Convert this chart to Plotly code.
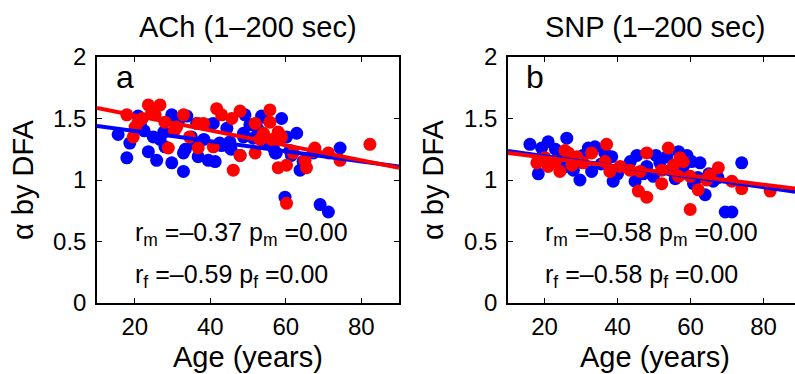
import plotly.graph_objects as go

# ---------------- data ----------------
# Panel a: ACh
age_m_ach = [15.6, 17.9, 18.7, 20.9, 21.5, 23.6, 25.8, 24.9, 26.7, 27.7, 29.8, 29.8, 31.5, 32.9, 32.9,
             33.8, 33.4, 35.0, 36.8, 36.4, 38.3, 39.9, 41.3, 39.5, 42.5, 44.4, 45.2, 47.9, 48.8, 49.2,
             50.5, 51.4, 53.6, 54.5, 56.7, 58.9, 60.2, 62.9, 63.8, 59.8, 69.1, 71.3, 74.4, 67.3, 64.6,
             61.5, 57.5, 45.5, 28.0, 22.5, 52.5, 35.5, 43.0, 40.8, 54.1, 48.8, 61.1, 57.2]
alpha_m_ach = [1.37, 1.18, 1.30, 1.52, 1.45, 1.23, 1.16, 1.35, 1.33, 1.39, 1.14, 1.53, 1.47, 1.07, 1.22,
               1.52, 1.25, 1.35, 1.19, 1.46, 1.33, 1.45, 1.15, 1.16, 1.30, 1.42, 1.31, 1.20, 1.35, 1.53,
               1.45, 1.34, 1.52, 1.30, 1.26, 1.50, 1.35, 1.38, 1.08, 0.86, 0.80, 0.74, 1.26, 1.22, 1.15,
               1.20, 1.22, 1.25, 1.27, 1.40, 1.42, 1.30, 1.28, 1.46, 1.51, 1.38, 1.24, 1.22]
age_f_ach = [17.9, 19.6, 20.1, 20.9, 23.6, 26.7, 25.4, 28.0, 28.9, 31.1, 32.9, 36.8, 36.8, 38.2, 40.8,
             41.7, 43.0, 45.7, 46.1, 47.9, 47.9, 51.9, 51.9, 53.2, 54.1, 55.8, 55.8, 56.3, 58.0, 58.0,
             58.9, 60.2, 60.2, 62.0, 65.1, 65.5, 67.7, 67.3, 71.3, 74.4, 82.3, 24.5, 22.0, 30.5, 34.5]
alpha_f_ach = [1.53, 1.35, 1.43, 1.47, 1.61, 1.61, 1.53, 1.47, 1.26, 1.43, 1.53, 1.26, 1.46, 1.46, 1.27,
               1.58, 1.53, 1.50, 1.08, 1.56, 1.20, 1.46, 1.22, 1.33, 1.38, 1.57, 1.47, 1.33, 1.39, 1.10,
               1.35, 1.12, 0.81, 1.22, 1.16, 1.10, 1.26, 1.23, 1.22, 1.16, 1.29, 1.55, 1.50, 1.40, 1.35]

# Panel b: SNP
age_m_snp = [16.0, 18.3, 21.0, 19.2, 26.1, 24.7, 29.7, 27.9, 32.0, 33.8, 32.9, 38.4, 38.8, 42.5, 45.3,
             44.8, 48.0, 49.8, 51.6, 53.5, 56.7, 55.8, 58.0, 60.3, 62.6, 60.8, 64.0, 66.2, 74.0, 69.5,
             71.3, 22.5, 25.0, 28.5, 30.5, 35.5, 36.5, 40.0, 43.5, 47.0, 50.5, 54.5, 57.5, 59.0, 62.0,
             65.0, 67.5, 23.0, 20.0]
alpha_m_snp = [1.29, 1.05, 1.31, 1.26, 1.34, 1.20, 1.00, 1.08, 1.26, 1.27, 1.07, 1.19, 0.99, 1.11, 1.20,
               0.99, 1.11, 1.03, 1.14, 1.19, 1.23, 1.01, 1.11, 1.15, 1.14, 0.97, 0.88, 0.99, 1.14, 0.74,
               0.74, 1.15, 1.10, 1.15, 1.20, 1.13, 1.22, 1.05, 1.15, 1.05, 1.20, 1.08, 1.05, 1.20, 1.02,
               1.05, 1.02, 1.25, 1.18]
age_f_snp = [17.9, 20.1, 21.0, 24.2, 25.6, 26.5, 28.8, 30.6, 32.9, 37.0, 36.6, 37.9, 40.7, 43.4, 46.2,
             48.0, 45.7, 48.0, 52.1, 52.1, 53.9, 55.3, 57.1, 58.0, 56.7, 59.9, 59.9, 62.1, 64.4, 65.3,
             67.6, 71.3, 74.0, 81.8, 22.9, 27.5]
alpha_f_snp = [1.14, 1.18, 1.11, 1.07, 1.24, 1.22, 1.19, 1.14, 1.22, 1.29, 1.15, 1.07, 1.11, 1.08, 1.07,
               1.22, 0.91, 0.86, 0.97, 1.08, 1.26, 1.12, 1.18, 1.15, 1.03, 1.03, 0.76, 0.92, 1.00, 1.04,
               1.10, 0.99, 0.93, 0.91, 1.15, 1.12]

# regression lines (values at the axis limits)
fit_age = [10, 90]
fit_m_ach = [1.44, 1.11]
fit_f_ach = [1.585, 1.10]
fit_m_snp = [1.235, 0.899]
fit_f_snp = [1.22, 0.925]

titles = ["ACh (1\u2013200 sec)", "SNP (1\u2013200 sec)"]
panel_letters = ["a", "b"]
stats_m = ["r<sub>m</sub> =\u20130.37 p<sub>m</sub> =0.00", "r<sub>m</sub> =\u20130.58 p<sub>m</sub> =0.00"]
stats_f = ["r<sub>f</sub> =\u20130.59 p<sub>f</sub> =0.00", "r<sub>f</sub> =\u20130.58 p<sub>f</sub> =0.00"]
xticks = [20, 40, 60, 80]
yticks = [0, 0.5, 1, 1.5, 2]
yticklabels = ["0", "0.5", "1", "1.5", "2"]

# ---------------- figure ----------------
W, H = 795, 374
FONT = "Liberation Sans, Arial, Helvetica, sans-serif"
BLUE = "#0000FF"
RED = "#FF0000"
MS = 13

fig = go.Figure()

panels = [
    ("x", "y", age_m_ach, alpha_m_ach, age_f_ach, alpha_f_ach, fit_m_ach, fit_f_ach),
    ("x2", "y2", age_m_snp, alpha_m_snp, age_f_snp, alpha_f_snp, fit_m_snp, fit_f_snp),
]
for xa, ya, am, bm, af, bf, fm, ff in panels:
    fig.add_trace(go.Scatter(x=am, y=bm, mode="markers", xaxis=xa, yaxis=ya,
                             marker=dict(color=BLUE, size=MS, line=dict(width=0)), showlegend=False))
    fig.add_trace(go.Scatter(x=af, y=bf, mode="markers", xaxis=xa, yaxis=ya,
                             marker=dict(color=RED, size=MS, line=dict(width=0)), showlegend=False))
    fig.add_trace(go.Scatter(x=fit_age, y=fm, mode="lines", xaxis=xa, yaxis=ya,
                             line=dict(color=BLUE, width=4), showlegend=False))
    fig.add_trace(go.Scatter(x=fit_age, y=ff, mode="lines", xaxis=xa, yaxis=ya,
                             line=dict(color=RED, width=4), showlegend=False))

ydom = [1 - 303 / H, 1 - 57 / H]
common_x = dict(tickvals=xticks, ticks="inside", ticklen=5, tickwidth=1, tickcolor="black",
                showline=True, linecolor="black", linewidth=1.5, showgrid=False, zeroline=False,
                automargin=False,
                tickfont=dict(family=FONT, size=24, color="black"), ticklabelstandoff=1)
common_y = dict(range=[0, 2], tickvals=yticks, ticktext=yticklabels, ticks="inside", ticklen=5,
                tickwidth=1, tickcolor="black", showline=True, linecolor="black", linewidth=1.5,
                showgrid=False, zeroline=False, automargin=False,
                tickfont=dict(family=FONT, size=24, color="black"), ticklabelstandoff=4)

fig.update_layout(
    template="none",
    width=W, height=H,
    margin=dict(l=0, r=0, t=0, b=0, pad=0, autoexpand=False),
    paper_bgcolor="white", plot_bgcolor="white",
    xaxis=dict(domain=[97 / W, 399 / W], range=[10, 90], mirror="ticks", anchor="y", **common_x),
    yaxis=dict(domain=ydom, mirror="ticks", anchor="x", **common_y),
    xaxis2=dict(domain=[508 / W, 1.0], range=[10, 88.6], mirror="ticks", anchor="y2", **common_x),
    yaxis2=dict(domain=ydom, mirror=False, anchor="x2", **common_y),
)

ann = []
centers = [248, 655]
ylab_x = [23, 433]
for i in range(2):
    xr = "x" if i == 0 else "x2"
    yr = "y" if i == 0 else "y2"
    ann.append(dict(text=titles[i], x=centers[i] / W, y=1 - 27 / H, xref="paper", yref="paper",
                    xanchor="center", yanchor="middle", showarrow=False,
                    font=dict(family=FONT, size=29, color="black")))
    ann.append(dict(text="Age (years)", x=centers[i] / W, y=1 - 357 / H, xref="paper", yref="paper",
                    xanchor="center", yanchor="middle", showarrow=False,
                    font=dict(family=FONT, size=29, color="black")))
    ann.append(dict(text="\u03b1 by DFA", x=ylab_x[i] / W, y=1 - 180 / H, xref="paper", yref="paper",
                    xanchor="center", yanchor="middle", textangle=-90, showarrow=False,
                    font=dict(family=FONT, size=29, color="black")))
    ann.append(dict(text=panel_letters[i], x=14.5, y=1.84, xref=xr, yref=yr,
                    xanchor="left", yanchor="middle", showarrow=False,
                    font=dict(family=FONT, size=32, color="black")))
    ann.append(dict(text=stats_m[i], x=19.5, y=0.56, xref=xr, yref=yr,
                    xanchor="left", yanchor="middle", showarrow=False,
                    font=dict(family=FONT, size=25, color="black")))
    ann.append(dict(text=stats_f[i], x=19.5, y=0.22, xref=xr, yref=yr,
                    xanchor="left", yanchor="middle", showarrow=False,
                    font=dict(family=FONT, size=25, color="black")))
fig.update_layout(annotations=ann)

fig.write_html("out.html")
